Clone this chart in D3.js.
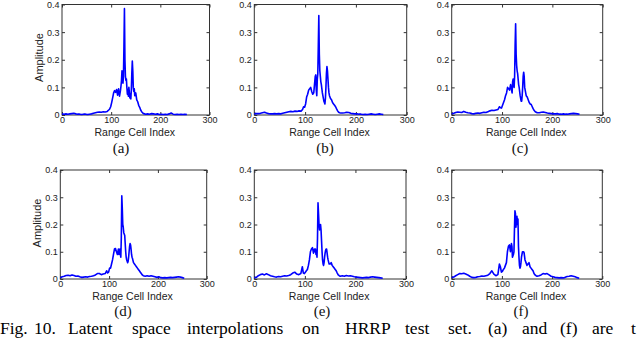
<!DOCTYPE html>
<html>
<head>
<meta charset="utf-8">
<script src="https://d3js.org/d3.v7.min.js"></script>
<style>
  body { margin: 0; background: #fff; }
  svg { display: block; }
  .axis text { font-family: "Liberation Sans", Arial, sans-serif; font-size: 9px; fill: #222; }
  .axis path, .axis line { stroke: #333; }
</style>
</head>
<body>
<div id="chart-area"></div>
<script>
// range cell indices (shared by every panel)
var cells = [0,4,8,12,16,20,24,28,32,36,40,44,48,52,56,60,64,68,72,76,80,84,88,92,
  95,97,99,101,103,105,107,109,111,113,115,117,119,
  120,121,122,123,124,125,126,127,128,129,130,131,132,133,134,135,136,137,138,139,140,141,142,143,144,145,146,147,148,
  150,152,154,156,158,160,162,164,166,168,170,
  174,178,182,186,190,194,198,202,206,210,214,218,222,226,230,234,238,242,246,250,254];

// amplitudes per panel
var ampA = [0.004,0.003,0.004,0.003,0.004,0.005,0.006,0.004,0.003,0.003,0.002,0.003,0.003,0.002,0.003,0.004,0.006,0.008,0.010,0.011,0.010,0.012,0.011,0.013,
  0.018,0.022,0.030,0.045,0.062,0.080,0.088,0.082,0.092,0.072,0.095,0.068,0.090,
  0.105,0.125,0.160,0.150,0.115,0.140,0.250,0.385,0.200,0.140,0.125,0.130,0.098,0.075,0.092,0.068,0.100,0.082,0.062,0.075,0.058,0.090,0.150,0.195,0.160,0.100,0.085,0.095,0.070,
  0.080,0.055,0.048,0.035,0.028,0.018,0.012,0.008,0.005,0.004,0.003,
  0.004,0.003,0.005,0.004,0.003,0.004,0.002,0.003,0.002,0.003,0.002,0.004,0.007,0.003,0.002,0.003,0.002,0.003,0.002,0.003,0.002];
var ampB = [0.004,0.005,0.005,0.006,0.008,0.010,0.007,0.005,0.004,0.004,0.005,0.004,0.005,0.004,0.006,0.008,0.010,0.012,0.013,0.012,0.014,0.013,0.015,0.014,
  0.020,0.030,0.028,0.040,0.065,0.075,0.090,0.095,0.100,0.085,0.075,0.080,0.120,
  0.140,0.145,0.090,0.070,0.130,0.150,0.250,0.360,0.220,0.160,0.140,0.120,0.110,0.095,0.080,0.070,0.060,0.050,0.045,0.040,0.060,0.100,0.150,0.175,0.160,0.130,0.100,0.080,0.070,
  0.060,0.055,0.045,0.040,0.035,0.030,0.022,0.015,0.010,0.008,0.007,
  0.007,0.008,0.010,0.009,0.006,0.005,0.004,0.004,0.003,0.003,0.002,0.003,0.002,0.003,0.004,0.003,0.002,0.003,0.004,0.003,0.002];
var ampC = [0.005,0.006,0.009,0.011,0.010,0.009,0.013,0.010,0.008,0.007,0.005,0.004,0.006,0.007,0.006,0.008,0.010,0.009,0.012,0.015,0.017,0.016,0.018,0.020,
  0.030,0.026,0.025,0.035,0.045,0.055,0.070,0.080,0.100,0.095,0.090,0.110,0.090,
  0.080,0.120,0.130,0.110,0.100,0.140,0.250,0.330,0.220,0.180,0.160,0.150,0.130,0.110,0.100,0.085,0.070,0.060,0.050,0.050,0.070,0.100,0.140,0.155,0.140,0.100,0.090,0.080,0.070,
  0.065,0.055,0.045,0.040,0.038,0.030,0.022,0.016,0.012,0.010,0.008,
  0.008,0.010,0.011,0.009,0.007,0.006,0.005,0.004,0.004,0.005,0.003,0.003,0.004,0.003,0.003,0.004,0.005,0.006,0.005,0.004,0.003];
var ampD = [0.005,0.008,0.010,0.013,0.014,0.012,0.015,0.013,0.010,0.011,0.008,0.006,0.007,0.008,0.007,0.009,0.010,0.012,0.015,0.020,0.020,0.016,0.018,0.020,
  0.030,0.022,0.025,0.040,0.040,0.055,0.070,0.090,0.110,0.112,0.100,0.090,0.110,
  0.090,0.100,0.110,0.090,0.080,0.150,0.305,0.260,0.200,0.190,0.170,0.165,0.160,0.130,0.100,0.080,0.070,0.065,0.060,0.065,0.080,0.100,0.120,0.130,0.125,0.110,0.090,0.080,0.075,
  0.060,0.055,0.050,0.045,0.040,0.035,0.030,0.025,0.020,0.015,0.012,
  0.010,0.012,0.010,0.012,0.010,0.008,0.006,0.008,0.005,0.004,0.005,0.004,0.005,0.006,0.005,0.006,0.007,0.008,0.007,0.005,0.003];
var ampE = [0.005,0.006,0.012,0.016,0.018,0.015,0.019,0.016,0.012,0.010,0.008,0.007,0.009,0.008,0.010,0.012,0.011,0.013,0.016,0.022,0.025,0.018,0.016,0.020,
  0.045,0.022,0.020,0.025,0.030,0.035,0.050,0.070,0.100,0.110,0.115,0.095,0.110,
  0.100,0.110,0.090,0.100,0.080,0.150,0.280,0.240,0.200,0.180,0.190,0.200,0.180,0.140,0.100,0.070,0.055,0.050,0.060,0.080,0.095,0.105,0.110,0.110,0.095,0.080,0.070,0.062,0.055,
  0.055,0.060,0.050,0.045,0.040,0.035,0.030,0.022,0.015,0.012,0.010,
  0.012,0.010,0.013,0.011,0.012,0.010,0.008,0.007,0.006,0.005,0.004,0.005,0.006,0.005,0.007,0.008,0.007,0.006,0.005,0.004,0.003];
var ampF = [0.005,0.007,0.012,0.016,0.020,0.019,0.021,0.018,0.015,0.010,0.006,0.005,0.006,0.008,0.009,0.011,0.010,0.012,0.014,0.020,0.030,0.018,0.012,0.016,
  0.055,0.045,0.025,0.028,0.035,0.040,0.050,0.060,0.100,0.120,0.125,0.100,0.130,
  0.120,0.080,0.085,0.090,0.100,0.180,0.250,0.240,0.190,0.220,0.230,0.200,0.220,0.120,0.080,0.050,0.040,0.045,0.060,0.080,0.090,0.100,0.100,0.100,0.098,0.085,0.070,0.065,0.060,
  0.050,0.055,0.060,0.045,0.040,0.035,0.030,0.020,0.015,0.012,0.010,
  0.012,0.015,0.020,0.018,0.020,0.015,0.010,0.008,0.006,0.005,0.004,0.005,0.004,0.006,0.009,0.010,0.012,0.010,0.008,0.005,0.003];

var xTicks = [0, 100, 200, 300];
var yTicks = [0, 0.1, 0.2, 0.3, 0.4];
var subLabels = ["(a)", "(b)", "(c)", "(d)", "(e)", "(f)"];

// panel boxes in page pixels
var panels = [
  {amp: ampA, left: 62,   right: 209.5, top: 4.5, bottom: 115, ylab: true,  cx: 121, sy: 153},
  {amp: ampB, left: 254.3, right: 406.7, top: 4.5, bottom: 115, ylab: false, cx: 325, sy: 153},
  {amp: ampC, left: 451.7, right: 602.7, top: 4.5, bottom: 115, ylab: false, cx: 520, sy: 153},
  {amp: ampD, left: 60.3, right: 206.7, top: 170, bottom: 279, ylab: true,  cx: 123, sy: 316},
  {amp: ampE, left: 254.3, right: 406,   top: 170, bottom: 279, ylab: false, cx: 322, sy: 316},
  {amp: ampF, left: 451.7, right: 602.3, top: 170, bottom: 279, ylab: false, cx: 521, sy: 316}
];

var svg = d3.select("#chart-area").append("svg")
  .attr("width", 640)
  .attr("height", 344);

panels.forEach(function (p, i) {
  var w = p.right - p.left, h = p.bottom - p.top;
  var x = d3.scaleLinear().domain([0, 300]).range([0, w]);
  var y = d3.scaleLinear().domain([0, 0.4]).range([h, 0]);

  var g = svg.append("g")
    .attr("transform", "translate(" + p.left + "," + p.top + ")");

  var fmt = function (d) { return d === 0 ? "0" : d3.format(".1f")(d); };

  g.append("g").attr("class", "axis")
    .attr("transform", "translate(0," + h + ")")
    .call(d3.axisBottom(x).tickValues(xTicks).tickSize(-3).tickSizeOuter(0).tickPadding(1.5))
    .select(".domain").remove();
  g.append("g").attr("class", "axis")
    .call(d3.axisLeft(y).tickValues(yTicks).tickFormat(fmt).tickSize(-3).tickSizeOuter(0).tickPadding(2.5))
    .select(".domain").remove();
  g.append("g").attr("class", "axis")
    .call(d3.axisTop(x).tickValues(xTicks).tickSize(-3).tickSizeOuter(0).tickFormat(""))
    .select(".domain").remove();
  g.append("g").attr("class", "axis")
    .attr("transform", "translate(" + w + ",0)")
    .call(d3.axisRight(y).tickValues(yTicks).tickSize(-3).tickSizeOuter(0).tickFormat(""))
    .select(".domain").remove();

  // box
  g.append("rect")
    .attr("width", w).attr("height", h)
    .attr("fill", "none").attr("stroke", "#333").attr("stroke-width", 1);

  var line = d3.line()
    .x(function (d, k) { return x(cells[k]); })
    .y(function (d) { return y(d); });

  g.append("path")
    .datum(p.amp)
    .attr("fill", "none")
    .attr("stroke", "#0000ff")
    .attr("stroke-width", 1.6)
    .attr("stroke-linejoin", "round")
    .attr("d", line);

  // x label
  g.append("text")
    .attr("x", w / 2 - 1)
    .attr("y", h + 21)
    .attr("text-anchor", "middle")
    .attr("font-family", "Liberation Sans, Arial, sans-serif")
    .attr("font-size", "10.5px")
    .attr("fill", "#222")
    .text("Range Cell Index");

  if (p.ylab) {
    g.append("text")
      .attr("transform", "rotate(-90)")
      .attr("x", -53)
      .attr("y", -19.5)
      .attr("text-anchor", "middle")
      .attr("font-family", "Liberation Sans, Arial, sans-serif")
      .attr("font-size", "11px")
      .attr("fill", "#222")
      .text("Amplitude");
  }

  // sub caption
  svg.append("text")
    .attr("x", p.cx)
    .attr("y", p.sy)
    .attr("text-anchor", "middle")
    .attr("font-family", "Liberation Serif, Times New Roman, serif")
    .attr("font-size", "15px")
    .attr("fill", "#111")
    .text(subLabels[i]);
});

// figure caption, justified word by word
var captionWords = ["Fig.", "10.", "Latent", "space", "interpolations", "on", "HRRP", "test", "set.", "(a)", "and", "(f)", "are", "t"];
var captionX = [0, 34, 68, 132, 187, 302, 345, 405, 448, 488, 522, 560, 592, 631];
svg.append("g").selectAll("text")
  .data(captionWords)
  .enter()
  .append("text")
  .attr("x", function (d, i) { return captionX[i]; })
  .attr("y", 334)
  .attr("font-family", "Liberation Serif, Times New Roman, serif")
  .attr("font-size", "17.5px")
  .attr("fill", "#000")
  .text(function (d) { return d; });
</script>
</body>
</html>
